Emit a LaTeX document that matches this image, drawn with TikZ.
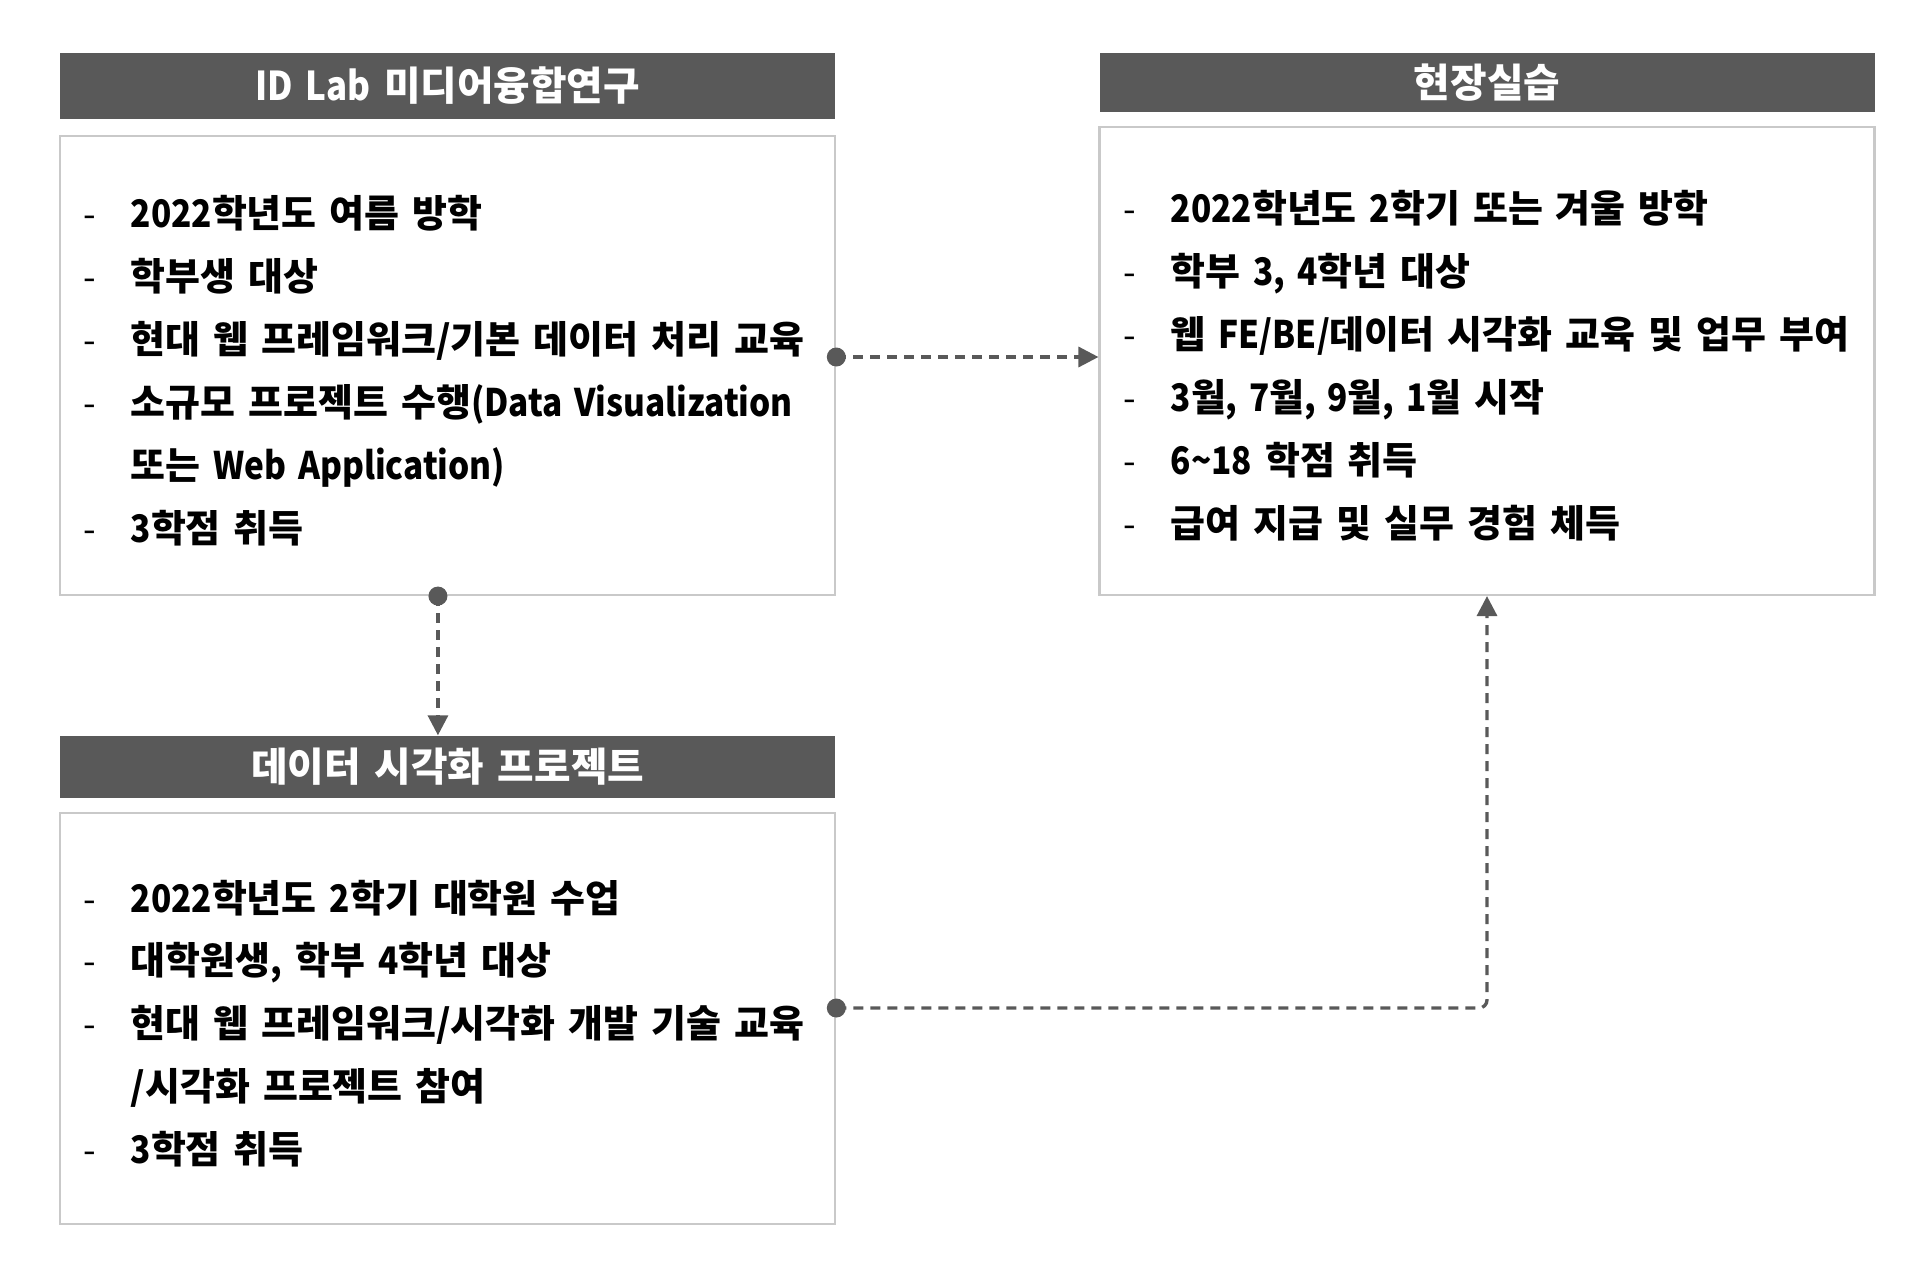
\documentclass[tikz,border=0pt]{standalone}
\usepackage{fontspec}
\newfontfamily\kofont{Noto Sans CJK KR}[WordSpace=1.5]
\newfontfamily\kolat{Noto Sans CJK KR}[WordSpace=1.5, FakeStretch=0.88]
\newcommand{\lat}[1]{{\kolat\bfseries #1}}
\usepackage{xcolor}
\definecolor{grisFonce}{HTML}{595959}
\definecolor{grisCadre}{HTML}{C9C9C9}
\usetikzlibrary{arrows.meta, calc}
\tikzset{
  %% Bandeaux sombres au-dessus des cadres.
  bandeau/.style = {fill=grisFonce, text=white, minimum width=77.5mm, inner sep=0pt,
                    font=\kofont\bfseries\fontsize{11.3}{13}\selectfont},
  %% Cadres clairs qui portent les listes.
  cadre/.style   = {draw=grisCadre, line width=0.6pt, fill=white,
                    minimum width=77.5mm, inner sep=0pt},
  ligne/.style   = {anchor=base west, inner sep=0pt, text=black,
                    font=\kofont\bfseries\fontsize{10.8}{13}\selectfont},
  puce/.style    = {anchor=base, inner sep=0pt, text=black,
                    font=\kofont\fontsize{10.3}{12}\selectfont},
  %% Liens en tirets, pointe pleine.
  fleche/.style  = {-{Triangle[length=2mm, width=2mm]}, draw=grisFonce,
                    line width=0.95pt, dash pattern=on 1mm off 0.7mm},
}

\begin{document}
\begin{tikzpicture}[x=0.1mm, y=-0.1mm]
\useasboundingbox (0,0) rectangle (1932,1280);

%% Les trois bandeaux et leurs cadres.
\node[bandeau, minimum height=6.6mm] (labTitre) at (447.75, 86) {\lat{ID Lab} 미디어융합연구};
\node[cadre, minimum height=45.9mm] (lab) at (447.75, 365.5) {};
\node[bandeau, minimum height=5.9mm] (stageTitre) at (1487, 82.5) {현장실습};
\node[cadre, minimum height=46.8mm] (stage) at (1487, 361) {};
\node[bandeau, minimum height=6.2mm] (vizTitre) at (447.75, 767) {데이터 시각화 프로젝트};
\node[cadre, minimum height=41.1mm] (viz) at (447.75, 1018.5) {};

%% Contenu des cadres, une ligne par pas d'environ 63.
\foreach \j/\d/\t in {0/-/{\lat{2022}학년도 여름 방학}, 1/-/{학부생 대상},
                      2/-/{현대 웹 프레임워크/기본 데이터 처리 교육},
                      3/-/{소규모 프로젝트 수행\lat{(Data Visualization}},
                      4//{또는 \lat{Web Application)}}, 5/-/{\lat{3}학점 취득}} {
  \node[puce] (labPuce\j) at (90, 227+63.1*\j) {\d};
  \node[ligne] (labLigne\j) at (130, 227+63.1*\j) {\t};
}
\foreach \j/\d/\t in {0/-/{\lat{2022}학년도 \lat{2}학기 또는 겨울 방학},
                      1/-/{학부 \lat{3, 4}학년 대상},
                      2/-/{웹 \lat{FE/BE/}데이터 시각화 교육 및 업무 부여},
                      3/-/{\lat{3}월\lat{, 7}월\lat{, 9}월\lat{, 1}월 시작},
                      4/-/{\lat{6\textasciitilde 18} 학점 취득},
                      5/-/{급여 지급 및 실무 경험 체득}} {
  \node[puce] (stagePuce\j) at (1130, 222+63.1*\j) {\d};
  \node[ligne] (stageLigne\j) at (1170, 222+63.1*\j) {\t};
}
\foreach \j/\d/\t in {0/-/{\lat{2022}학년도 \lat{2}학기 대학원 수업},
                      1/-/{대학원생\lat{,} 학부 \lat{4}학년 대상},
                      2/-/{현대 웹 프레임워크/시각화 개발 기술 교육},
                      3//{/시각화 프로젝트 참여}, 4/-/{\lat{3}학점 취득}} {
  \node[puce] (vizPuce\j) at (90, 912+62.8*\j) {\d};
  \node[ligne] (vizLigne\j) at (130, 912+62.8*\j) {\t};
}

%% Les liens : point de depart plein, tirets, pointe a l'arrivee.
\coordinate (labSortie) at ([yshift=0.85mm]lab.east);
\coordinate (labBas) at ([xshift=-0.98mm]lab.south);
\coordinate (vizSortie) at ([yshift=1.05mm]viz.east);
\draw[fleche] (labSortie) -- (labSortie -| stage.west);
\draw[fleche] (labBas) -- (labBas |- vizTitre.north);
\draw[fleche, rounded corners=0.8mm] (vizSortie) -| (stage.south);
\foreach \p in {labSortie, labBas, vizSortie}
  \fill[grisFonce] (\p) circle (0.95mm);

\end{tikzpicture}
\end{document}
